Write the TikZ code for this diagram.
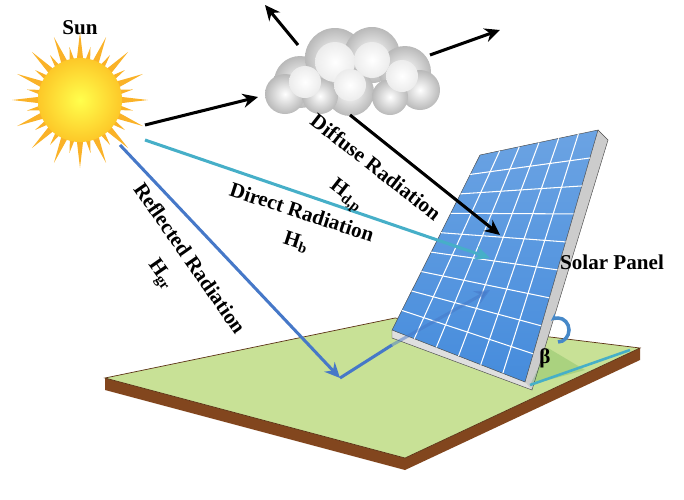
\documentclass[tikz,border=0pt]{standalone}
\usepackage{fontspec}
\setmainfont{Liberation Serif}
\usetikzlibrary{calc,arrows.meta}
\definecolor{sunyel}{RGB}{253,200,40}
\definecolor{sunray}{RGB}{250,178,40}
\definecolor{grass}{RGB}{200,225,150}
\definecolor{soil}{RGB}{130,70,30}
\definecolor{cell}{RGB}{70,140,220}
\definecolor{directc}{RGB}{70,175,200}
\definecolor{reflc}{RGB}{70,120,200}
\tikzset{
  lab/.style={font=\bfseries\fontsize{18}{20}\selectfont,inner sep=1pt},
  ray/.style={line width=2.6pt,-{Stealth[length=13pt,width=12pt]}},
}
\begin{document}
\begin{tikzpicture}[x=0.03cm,y=-0.03cm]
\useasboundingbox (0,0) rectangle (684,499);
% ground
\coordinate (gA) at (105,378);
\coordinate (gB) at (395,318);
\coordinate (gC) at (640,348);
\coordinate (gD) at (405,458);
\fill[soil] (gA) -- (gD) -- (gC) -- ($(gC)+(0,12)$) -- ($(gD)+(0,12)$) -- ($(gA)+(0,12)$) -- cycle;
\fill[grass] (gA) -- (gB) -- (gC) -- (gD) -- cycle;
\draw[soil!70!black,line width=0.6pt] (gA) -- (gB) -- (gC) -- (gD) -- cycle;
% sun
\foreach \a in {0,22.5,...,359} {
  \fill[sunray] ($(80,100)+(\a-6:36)$) -- ($(80,100)+(\a+6:36)$) -- ($(80,100)+(\a:68)$) -- cycle;
  \fill[sunray] ($(80,100)+(\a+6:36)$) -- ($(80,100)+(\a+16:36)$) -- ($(80,100)+(\a+11.25:54)$) -- cycle;
}
\shade[inner color=yellow!70!white,outer color=sunyel] (80,100) circle (42);
\node[lab] (sun) at (80,28) {Sun};
% cloud
\foreach \cx/\cy/\r in {300/82/26,335/58/30,372/55/28,405/72/26,420/90/20,350/92/24,285/94/20,390/97/18,320/96/18}
  \shade[inner color=white,outer color=gray!55] (\cx,\cy) circle (\r);
\foreach \cx/\cy/\r in {335/62/20,372/60/18,305/82/16,402/76/16,350/85/16}
  \shade[inner color=white,outer color=white!85!gray] (\cx,\cy) circle (\r);
\coordinate (cl) at (340,75);
% panel
\coordinate (pTL) at (480,155);
\coordinate (pTR) at (598,130);
\coordinate (pBR) at (525,382);
\coordinate (pBL) at (392,330);
\fill[gray!40] (pTR) -- (608,140) -- (532,390) -- (pBR) -- cycle;
\fill[gray!25] (pBL) -- (pBR) -- (532,390) -- (392,338) -- cycle;
\draw[black!70] (pTR) -- (608,140) -- (532,390) -- (392,338) -- (pBL);
\shade[top color=cell!80,bottom color=cell,draw=black!70] (pTL) -- (pTR) -- (pBR) -- (pBL) -- cycle;
\foreach \t in {0.111,0.222,...,0.9}
  \draw[white,line width=0.9pt] ($(pTL)!\t!(pBL)$) -- ($(pTR)!\t!(pBR)$);
\foreach \t in {0.167,0.333,0.5,0.667,0.833}
  \draw[white,line width=0.9pt] ($(pTL)!\t!(pTR)$) -- ($(pBL)!\t!(pBR)$);
\node[lab] (panel) at (612,262) {Solar Panel};
% angle
\coordinate (bo) at (530,385);
\coordinate (be) at (630,350);
\fill[green!50!black,opacity=0.15] (bo) -- (548,348) -- (585,370) -- cycle;
\draw[directc,line width=2.2pt] (bo) -- (be);
\draw[reflc!70!directc,line width=3pt,-{Stealth[length=7pt]}] (558,342) arc[start angle=90,end angle=-130,x radius=11,y radius=12];
\node[lab] (beta) at (545,358) {β};
% radiation
\draw[ray] (145,125) -- (258,97);
\draw[ray] (298,45) -- (265,5);
\draw[ray] (430,55) -- (500,30);
\draw[ray] (350,115) -- (500,235);
\draw[ray,directc] (145,140) -- (490,258);
\coordinate (hit) at (340,378);
\draw[ray,reflc] (120,145) -- (hit);
\draw[line width=2.6pt,reflc] (hit) -- (392,345);
\draw[ray,reflc,opacity=0.5] (392,345) -- (490,290);
% labels
\node[lab,rotate=-38] (dif) at (376,167) {Diffuse Radiation};
\node[lab,rotate=-38] (hdp) at (346,196) {H\textsubscript{d,p}};
\node[lab,rotate=-18] (dir) at (302,212) {Direct Radiation};
\node[lab,rotate=-18] (hb) at (296,242) {H\textsubscript{b}};
\node[lab,rotate=-55] (ref) at (190,258) {Reflected Radiation};
\node[lab,rotate=-55] (hgr) at (160,275) {H\textsubscript{gr}};
\end{tikzpicture}
\end{document}
